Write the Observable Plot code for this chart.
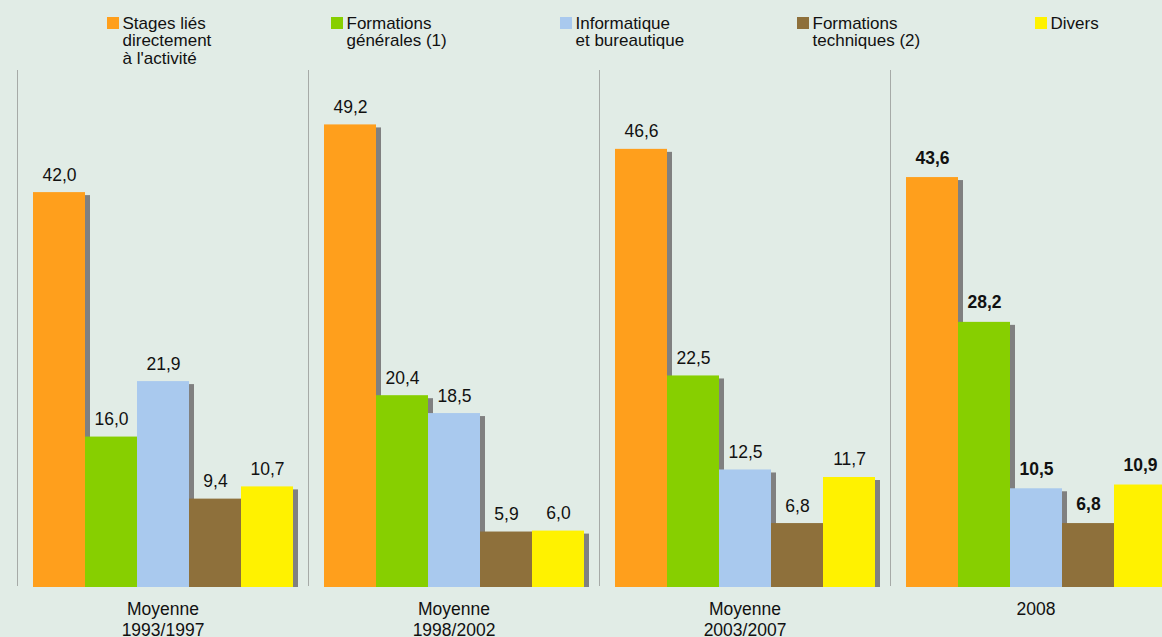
<!DOCTYPE html>
<html><head><meta charset="utf-8">
<script src="https://cdn.jsdelivr.net/npm/d3@7"></script>
<script src="https://cdn.jsdelivr.net/npm/@observablehq/plot@0.6"></script>
<style>
html,body{margin:0;padding:0;background:#e1ece6;overflow:hidden;width:1162px;height:637px;}
body{position:relative;font-family:"Liberation Sans",Arial,sans-serif;color:#111;}
#legend{position:absolute;left:0;top:0;display:flex;padding-left:107px;padding-top:14.7px;font-size:17px;line-height:17.5px;z-index:2}
.item{display:flex;align-items:flex-start}
.sw{width:12px;height:12px;margin-top:2.6px;margin-right:3.5px;flex:none}
.lab{white-space:pre-line}
#chart{position:absolute;left:0;top:0}
</style></head>
<body>
<div id="legend"></div>
<div id="chart"></div>
<script>
// ---- data ----
const groups = ["Moyenne\n1993/1997", "Moyenne\n1998/2002", "Moyenne\n2003/2007", "2008"];
const series = ["Stages liés\ndirectement\nà l'activité", "Formations\ngénérales (1)", "Informatique\net bureautique", "Formations\ntechniques (2)", "Divers"];
const stages = [42.0, 49.2, 46.6, 43.6];
const generales = [16.0, 20.4, 22.5, 28.2];
const informatique = [21.9, 18.5, 12.5, 10.5];
const techniques = [9.4, 5.9, 6.8, 6.8];
const divers = [10.7, 6.0, 11.7, 10.9];
const boldGroups = ["2008"];

// ---- styling ----
const colors = ["#ff9f1c", "#87cf00", "#a9c9ee", "#8e703b", "#fff200"];
const bg = "#e1ece6";
const legendWidths = [224, 229, 237, 238, 120];
const yMax = 55.2;

const valuesBySeries = [stages, generales, informatique, techniques, divers];
const data = groups.flatMap((g, i) => series.map((s, j) => ({group: g, series: s, value: valuesBySeries[j][i]})));
const fmt = v => v.toFixed(1).replace(".", ",");

// legend
const legend = document.getElementById("legend");
series.forEach((s, j) => {
  const it = document.createElement("div");
  it.className = "item";
  it.style.width = legendWidths[j] + "px";
  const sw = document.createElement("div");
  sw.className = "sw";
  sw.style.background = colors[j];
  const lab = document.createElement("div");
  lab.className = "lab";
  lab.textContent = s;
  it.appendChild(sw); it.appendChild(lab);
  legend.appendChild(it);
});

const chart = Plot.plot({
  width: 1182, height: 637,
  marginLeft: 16, marginRight: 0, marginTop: 68, marginBottom: 50,
  style: "background:transparent;max-width:none;overflow:visible;font-family:'Liberation Sans',Arial,sans-serif;color:#111;",
  fx: {domain: groups, padding: 0, axis: null},
  x: {domain: series, paddingInner: 0, paddingOuter: 0.25, axis: null},
  y: {domain: [0, yMax], axis: null},
  color: {domain: series, range: colors},
  marks: [
    Plot.frame({stroke: "#a6aaa7"}),
    Plot.ruleY([yMax], {stroke: bg, strokeWidth: 3}),
    Plot.ruleY([0], {stroke: bg, strokeWidth: 3}),
    Plot.barY(data, {fx: "group", x: "series", y: "value", fill: "#808080", dx: 5, insetTop: 3}),
    Plot.barY(data, {fx: "group", x: "series", y: "value", fill: "series"}),
    Plot.text(data.filter(d => !boldGroups.includes(d.group)), {fx: "group", x: "series", y: "value", text: d => fmt(d.value), dy: -12, lineAnchor: "bottom", fontSize: 17.5, fill: "#111"}),
    Plot.text(data.filter(d => boldGroups.includes(d.group)), {fx: "group", x: "series", y: "value", text: d => fmt(d.value), dy: -14, lineAnchor: "bottom", fontSize: 17.5, fontWeight: "bold", fill: "#111"}),
    Plot.text(groups, {fx: d => d, text: d => d, frameAnchor: "bottom", lineAnchor: "top", dy: 13, fontSize: 17.5, lineHeight: 1.17, fill: "#111"})
  ]
});
document.getElementById("chart").appendChild(chart);
</script>
</body></html>
